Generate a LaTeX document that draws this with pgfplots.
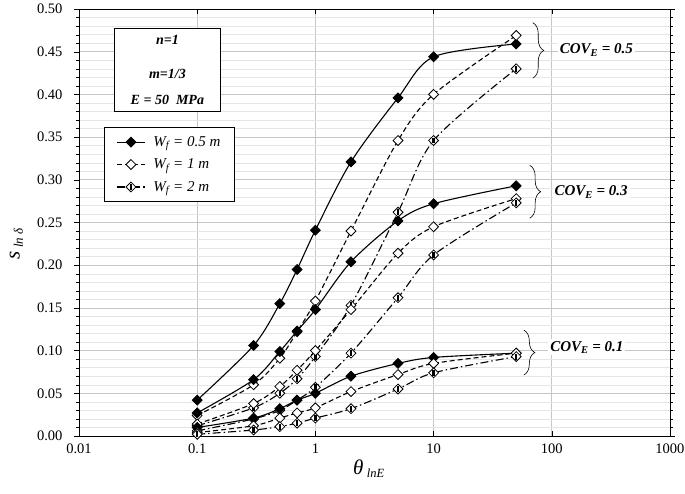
\documentclass[border=0pt]{standalone}
\usepackage{fontspec}
\setmainfont{Liberation Serif}
\usepackage{pgfplots}
\pgfplotsset{compat=1.18}
\usetikzlibrary{decorations.pathreplacing}

\pgfdeclareplotmark{hdiam}{%
  \pgfpathmoveto{\pgfqpoint{0pt}{1.414\pgfplotmarksize}}%
  \pgfpathlineto{\pgfqpoint{1.414\pgfplotmarksize}{0pt}}%
  \pgfpathlineto{\pgfqpoint{0pt}{-1.414\pgfplotmarksize}}%
  \pgfpathlineto{\pgfqpoint{-1.414\pgfplotmarksize}{0pt}}%
  \pgfpathclose
  \pgfsetfillcolor{white}\pgfusepath{fill,stroke}%
  \pgfpathrectangle{\pgfqpoint{-0.35\pgfplotmarksize}{-0.85\pgfplotmarksize}}{\pgfqpoint{0.7\pgfplotmarksize}{1.7\pgfplotmarksize}}%
  \pgfsetfillcolor{black}\pgfusepath{fill}%
}

\begin{document}
\begin{tikzpicture}
\path[use as bounding box] (-79pt,-58pt) rectangle (606pt,436pt);
\begin{axis}[
  scale only axis,
  width=591pt, height=427pt,
  xmode=log, log basis x=10,
  xmin=0.01, xmax=1000, ymin=0, ymax=0.5,
  log ticks with fixed point,
  xtick={0.01,0.1,1,10,100,1000},
  xticklabels={0.01,0.1,1,10,100,1000},
  ytick distance=0.05,
  minor y tick num=4,
  /pgf/number format/assume math mode=true,
  tick label style={font=\fontsize{14.5}{16}\selectfont},
  xticklabel style={yshift=-4pt},
  yticklabel style={xshift=-8pt, /pgf/number format/.cd, fixed, fixed zerofill, precision=2},
  grid=both,
  major grid style={gray!45, line width=0.6pt},
  minor grid style={gray!20, line width=0.4pt},
  axis line style={black, line width=0.9pt},
  tick style={black},
  xtick align=inside, ytick align=outside,
  major tick length=5pt, minor tick length=3pt,
  xlabel={\fontsize{21}{24}\selectfont\textit{θ}\,\raisebox{-0.35ex}{\fontsize{12.5}{14}\selectfont\textit{lnE}}},
  xlabel style={at={(axis description cs:0.49,0)}, anchor=north, yshift=-20pt},
  ylabel={\fontsize{21}{24}\selectfont\textit{s}\,\raisebox{-0.35ex}{\fontsize{13}{15}\selectfont\textit{ln δ}}},
  ylabel style={at={(axis description cs:-0.106,0.45)}, anchor=center},
  legend style={at={(axis description cs:0.0423,0.7237)}, anchor=north west,
    draw=black, line width=0.8pt, fill=white, font=\fontsize{15}{17}\selectfont\itshape,
    row sep=7pt, inner xsep=12pt, inner ysep=7pt, cells={anchor=west},
    /tikz/every odd column/.append style={column sep=6pt}},
  legend image code/.code={\draw[#1] (0pt,0pt) -- (28pt,0pt); \draw[#1, mark repeat=1, solid] plot coordinates {(14pt,0pt)};},
  every axis plot/.append style={black, line width=1.1pt, smooth, tension=0.5},
]
\pgfplotsset{
  sA/.style={solid, mark=square*, mark size=3.5pt, mark options={rotate=45, solid, fill=black, line width=0.8pt}},
  sB/.style={dash pattern=on 5pt off 3pt, mark=square*, mark size=3.5pt, mark options={rotate=45, solid, fill=white, line width=0.8pt}},
  sC/.style={dash pattern=on 8pt off 3pt on 1.5pt off 3pt, mark=hdiam, mark size=3.5pt, mark options={solid, line width=0.8pt}},
}
% COV_E = 0.5
\addplot[sA] coordinates {(0.1,0.042)(0.3,0.106)(0.5,0.155)(0.7,0.195)(1,0.241)(2,0.321)(5,0.396)(10,0.444)(50,0.459)};
\addlegendentry{W\textsubscript{\itshape f} = 0.5 m}
\addplot[sB] coordinates {(0.1,0.024)(0.3,0.060)(0.5,0.091)(0.7,0.122)(1,0.158)(2,0.240)(5,0.346)(10,0.400)(50,0.469)};
\addlegendentry{W\textsubscript{\itshape f} = 1 m}
\addplot[sC] coordinates {(0.1,0.012)(0.3,0.033)(0.5,0.050)(0.7,0.067)(1,0.093)(2,0.153)(5,0.262)(10,0.346)(50,0.430)};
\addlegendentry{W\textsubscript{\itshape f} = 2 m}
% COV_E = 0.3
\addplot[sA, forget plot] coordinates {(0.1,0.027)(0.3,0.066)(0.5,0.099)(0.7,0.123)(1,0.148)(2,0.204)(5,0.252)(10,0.272)(50,0.293)};
\addplot[sB, forget plot] coordinates {(0.1,0.014)(0.3,0.038)(0.5,0.058)(0.7,0.077)(1,0.100)(2,0.148)(5,0.214)(10,0.245)(50,0.278)};
\addplot[sC, forget plot] coordinates {(0.1,0.006)(0.3,0.020)(0.5,0.030)(0.7,0.042)(1,0.057)(2,0.097)(5,0.162)(10,0.212)(50,0.273)};
% COV_E = 0.1
\addplot[sA, forget plot] coordinates {(0.1,0.010)(0.3,0.021)(0.5,0.032)(0.7,0.042)(1,0.050)(2,0.070)(5,0.085)(10,0.092)(50,0.097)};
\addplot[sB, forget plot] coordinates {(0.1,0.004)(0.3,0.012)(0.5,0.021)(0.7,0.027)(1,0.033)(2,0.052)(5,0.072)(10,0.085)(50,0.097)};
\addplot[sC, forget plot] coordinates {(0.1,0.002)(0.3,0.007)(0.5,0.011)(0.7,0.015)(1,0.021)(2,0.032)(5,0.055)(10,0.074)(50,0.093)};

% info box
\node[draw=black, line width=0.8pt, fill=white, anchor=north west, minimum width=106pt, minimum height=83pt, align=center,
  font=\fontsize{14}{16}\selectfont\bfseries\itshape]
  at (axis description cs:0.0592,0.9555) {n=1\\[18pt]m=1/3\\[10pt]E = 50\ \ MPa};

% braces and labels
\draw[line width=0.6pt, decorate, decoration={brace, amplitude=11pt}] (axis cs:69,0.484) -- (axis cs:69,0.419);
\draw[line width=0.6pt, decorate, decoration={brace, amplitude=11pt}] (axis cs:65,0.317) -- (axis cs:65,0.255);
\draw[line width=0.6pt, decorate, decoration={brace, amplitude=11pt}] (axis cs:58,0.124) -- (axis cs:58,0.0714);
\node[anchor=west, fill=white, inner sep=2pt, font=\fontsize{15}{17}\selectfont\bfseries\itshape] at (axis cs:112,0.452) {COV\textsubscript{E} = 0.5};
\node[anchor=west, fill=white, inner sep=2pt, font=\fontsize{15}{17}\selectfont\bfseries\itshape] at (axis cs:101,0.2857) {COV\textsubscript{E} = 0.3};
\node[anchor=west, fill=white, inner sep=2pt, font=\fontsize{15}{17}\selectfont\bfseries\itshape] at (axis cs:93,0.104) {COV\textsubscript{E} = 0.1};
\end{axis}
\end{tikzpicture}
\end{document}
